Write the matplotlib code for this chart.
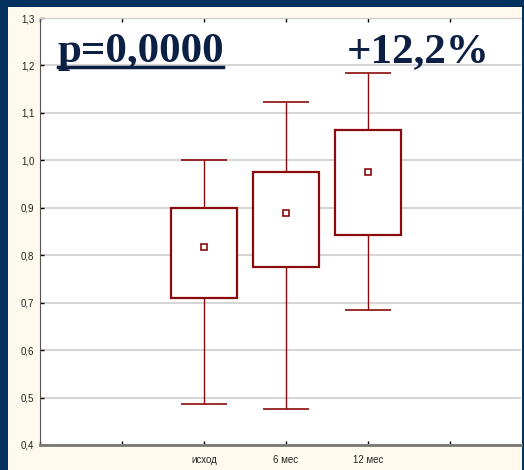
import matplotlib
matplotlib.use('Agg')
import matplotlib.pyplot as plt
from matplotlib.patches import Rectangle
from matplotlib.ticker import FuncFormatter

# group statistics: mean, box (lower/upper), whiskers (min/max)
groups = ["исход", "6 мес", "12 мес"]
positions = [2, 3, 4]
means = [0.818, 0.889, 0.976]
box_lo = [0.709, 0.775, 0.842]
box_hi = [0.900, 0.975, 1.064]
whisk_lo = [0.486, 0.476, 0.684]
whisk_hi = [1.000, 1.122, 1.185]

NAVY = "#03325f"
CREAM = "#fff9ee"
RED = "#8b0a0a"
TEXT = "#0c1f45"


def main():
    fig = plt.figure(figsize=(5.24, 4.70), dpi=100)
    fig.patch.set_facecolor(NAVY)
    fig.patches.append(Rectangle((8 / 524, 0), 514 / 524, 1 - 7 / 470,
                                 transform=fig.transFigure, facecolor=CREAM,
                                 edgecolor="none", zorder=-10))

    ax = fig.add_axes([40 / 524, 1 - 445 / 470, 481 / 524, 427 / 470])
    ax.set_facecolor("white")

    ax.vlines(positions, whisk_lo, whisk_hi, color=RED, lw=1.0, zorder=2)
    ax.hlines(whisk_lo, [p - 0.28 for p in positions], [p + 0.28 for p in positions],
              color=RED, lw=1.2, zorder=2)
    ax.hlines(whisk_hi, [p - 0.28 for p in positions], [p + 0.28 for p in positions],
              color=RED, lw=1.2, zorder=2)
    ax.bar(positions, [h - l for h, l in zip(box_hi, box_lo)], bottom=box_lo,
           width=0.8, facecolor="white", edgecolor=RED, linewidth=1.6, zorder=3)
    ax.plot(positions, means, ls="none", marker="s", ms=4.5, mfc="white",
            mec=RED, mew=1.2, zorder=4)

    ax.set_xlim(0, 481 / 82)
    ax.set_ylim(0.4, 1.3)
    ax.set_yticks([0.4 + 0.1 * i for i in range(10)])
    ax.yaxis.set_major_formatter(FuncFormatter(lambda v, _: ("%.1f" % v).replace(".", ",")))
    ax.set_xticks(range(6))
    ax.set_xticklabels(["", ""] + groups + [""])
    ax.grid(axis="y", color="#d6d6d6", lw=1.5)
    ax.set_axisbelow(True)

    ax.tick_params(axis="both", direction="in", length=3, width=1, color="black",
                   labelsize=7, labelcolor="#222222", pad=4)
    ax.tick_params(axis="x", top=True, pad=7)
    ax.spines["left"].set_color("#555555")
    ax.spines["bottom"].set_color("#777777")
    ax.spines["bottom"].set_linewidth(2)
    ax.spines["top"].set_color("#cccccc")
    ax.spines["right"].set_visible(False)
    for lab in ax.get_xticklabels() + ax.get_yticklabels():
        lab.set_family(["Liberation Sans", "DejaVu Sans"])

    fig.text(58 / 524, 1 - 62 / 470, "p=0,0000", family="Liberation Serif",
             weight="bold", size=31, color=TEXT, va="baseline", ha="left")
    fig.add_artist(plt.Line2D([58 / 524, 223 / 524], [1 - 67 / 470, 1 - 67 / 470],
                              color=TEXT, lw=2.5, transform=fig.transFigure))
    fig.text(347 / 524, 1 - 62 / 470, "+12,2%", family="Liberation Serif",
             weight="bold", size=31, color=TEXT, va="baseline", ha="left")

    fig.savefig("out.png", dpi=100, facecolor=fig.get_facecolor())


if __name__ == "__main__":
    main()
